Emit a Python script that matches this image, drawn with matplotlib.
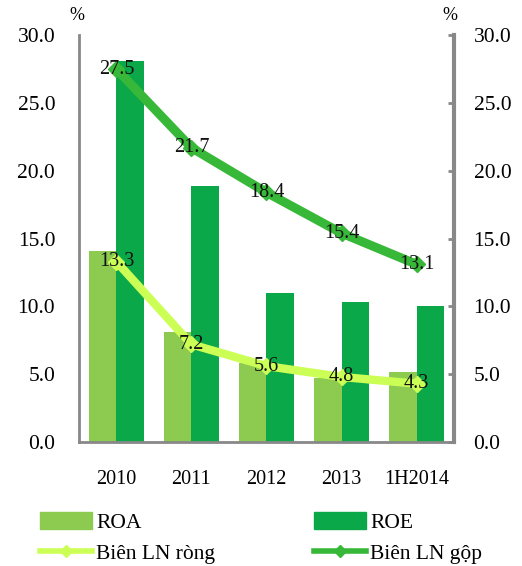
import matplotlib
matplotlib.use("Agg")
import matplotlib.pyplot as plt
import numpy as np
from matplotlib.patches import Patch
from matplotlib.lines import Line2D

categories = ["2010", "2011", "2012", "2013", "1H2014"]
roa = [14.1, 8.1, 5.8, 4.7, 5.2]
roe = [28.1, 18.9, 11.0, 10.3, 10.0]
net_margin = [13.3, 7.2, 5.6, 4.8, 4.3]
gross_margin = [27.5, 21.7, 18.4, 15.4, 13.1]
yticks = [0, 5, 10, 15, 20, 25, 30]

c_roa = "#8CCB50"
c_roe = "#0BA84A"
c_gross = "#38B838"
c_net = "#CCFF55"
gray = "#888888"

plt.rcParams["font.family"] = ["Liberation Serif", "DejaVu Serif"]

fig = plt.figure(figsize=(5.22, 5.66), dpi=100)
ax = fig.add_axes([0.151, 0.219, 0.719, 0.719])
x = np.arange(len(categories))
w = 0.37
ax.bar(x - w / 2, roa, width=w, color=c_roa, zorder=2)
ax.bar(x + w / 2, roe, width=w, color=c_roe, zorder=2)
ax.plot(x, gross_margin, color=c_gross, lw=6.5, marker="D", ms=8, zorder=3,
        solid_capstyle="butt")
ax.plot(x, net_margin, color=c_net, lw=6, marker="D", ms=8, zorder=3,
        solid_capstyle="butt")
for xi, v in zip(x, gross_margin):
    ax.text(xi, v, f"{v:.1f}", ha="center", va="center", fontsize=14.5, color="#111111", zorder=4)
for xi, v in zip(x, net_margin):
    ax.text(xi, v, f"{v:.1f}", ha="center", va="center", fontsize=14.5, color="#111111", zorder=4)

ax.set_xlim(-0.5, len(categories) - 0.5)
ax.set_ylim(0, 30)
ax.set_yticks(yticks)
ax.set_yticklabels([f"{t:.1f}" for t in yticks], fontsize=15.5)
ax.tick_params(axis="y", length=0, pad=17)
ax.set_xticks(x)
ax.set_xticklabels(categories, fontsize=14.5)
ax.tick_params(axis="x", length=0, pad=20)
for s in ["top", "right"]:
    ax.spines[s].set_visible(False)
ax.spines["left"].set_color(gray)
ax.spines["left"].set_linewidth(2)
ax.spines["bottom"].set_color(gray)
ax.spines["bottom"].set_linewidth(2)

ax2 = ax.twinx()
ax2.set_ylim(0, 30)
ax2.set_yticks(yticks)
ax2.set_yticklabels([f"{t:.1f}" for t in yticks], fontsize=15.5)
ax2.tick_params(axis="y", direction="in", length=4, width=2, color=gray, pad=14)
for s in ["top", "left", "bottom"]:
    ax2.spines[s].set_visible(False)
ax2.spines["right"].set_color(gray)
ax2.spines["right"].set_linewidth(3)

fig.text(77 / 522, 1 - 15 / 566, "%", ha="center", va="center", fontsize=13)
fig.text(450 / 522, 1 - 15 / 566, "%", ha="center", va="center", fontsize=13)

handles = [
    Patch(color=c_roa, label="ROA"),
    Line2D([], [], color=c_net, lw=4, marker="D", ms=6, label="Biên LN ròng"),
    Patch(color=c_roe, label="ROE"),
    Line2D([], [], color=c_gross, lw=4, marker="D", ms=6, label="Biên LN gộp"),
]
fig.legend(handles=handles, ncol=2, loc="center", bbox_to_anchor=(0.5, 1 - 538 / 566),
           frameon=False, fontsize=15.5, handlelength=2.4, handleheight=0.8,
           columnspacing=4.6, handletextpad=0.2, labelspacing=0.45)

fig.savefig("out.png", dpi=100)
